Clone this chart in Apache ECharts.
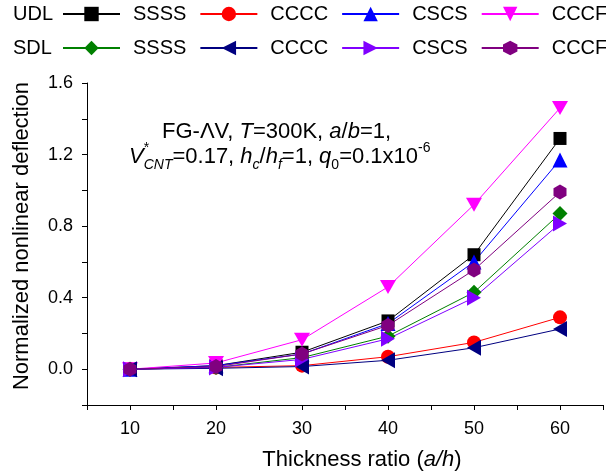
<!DOCTYPE html>
<html><head><meta charset="utf-8">
<script src="https://cdn.jsdelivr.net/npm/echarts@6/dist/echarts.min.js"></script>
<style>html,body{margin:0;padding:0;background:#fff}#c{width:606px;height:475px}</style>
</head><body><div id="c"></div>
<script>
const thickness = [10, 20, 30, 40, 50, 60];
const udlSSSS = [0, 0.02, 0.095, 0.27, 0.64, 1.29];
const udlCCCC = [0, 0.01, 0.02, 0.07, 0.15, 0.29];
const udlCSCS = [0, 0.02, 0.085, 0.255, 0.60, 1.17];
const udlCCCF = [0, 0.035, 0.165, 0.46, 0.92, 1.46];
const sdlSSSS = [0, 0.01, 0.065, 0.185, 0.43, 0.87];
const sdlCCCC = [0, 0.005, 0.015, 0.05, 0.12, 0.225];
const sdlCSCS = [0, 0.01, 0.055, 0.17, 0.40, 0.815];
const sdlCCCF = [0, 0.015, 0.085, 0.245, 0.555, 0.99];
const xTicks = [10, 20, 30, 40, 50, 60];
const yTicks = [0.0, 0.4, 0.8, 1.2, 1.6];

const FONT = '"Liberation Sans", Arial, sans-serif';
const SYM = {
  square: 'rect',
  circle: 'circle',
  up: 'triangle',
  down: 'path://M0,0 L10,0 L5,10 Z',
  diamond: 'diamond',
  left: 'path://M10,0 L0,5 L10,10 Z',
  right: 'path://M0,0 L10,5 L0,10 Z',
  hex: 'path://M5,0 L9.33,2.5 L9.33,7.5 L5,10 L0.67,7.5 L0.67,2.5 Z'
};
const seriesDefs = [
  {name: 'UDL SSSS', data: udlSSSS, color: '#000000', symbol: SYM.square, size: 13},
  {name: 'UDL CCCC', data: udlCCCC, color: '#ff0000', symbol: SYM.circle, size: 14},
  {name: 'UDL CSCS', data: udlCSCS, color: '#0000ff', symbol: SYM.up, size: 15},
  {name: 'UDL CCCF', data: udlCCCF, color: '#ff00ff', symbol: SYM.down, size: [16, 14]},
  {name: 'SDL SSSS', data: sdlSSSS, color: '#008000', symbol: SYM.diamond, size: 15},
  {name: 'SDL CCCC', data: sdlCCCC, color: '#000080', symbol: SYM.left, size: [14, 16]},
  {name: 'SDL CSCS', data: sdlCSCS, color: '#8000ff', symbol: SYM.right, size: [14, 16]},
  {name: 'SDL CCCF', data: sdlCCCF, color: '#800080', symbol: SYM.hex, size: [13, 15]}
];

const series = seriesDefs.map(d => ({
  name: d.name, type: 'line',
  data: thickness.map((x, i) => [x, d.data[i]]),
  symbol: d.symbol, symbolSize: d.size, showSymbol: true,
  lineStyle: {color: d.color, width: 1},
  itemStyle: {color: d.color, borderWidth: 0},
  emphasis: {disabled: true}, animation: false
}));

// rich annotation builder
const mctx = document.createElement('canvas').getContext('2d');
function tw(t, size, italic) { mctx.font = (italic ? 'italic ' : '') + size + 'px ' + FONT; return mctx.measureText(t).width; }
const MAIN = 22, SMALL = 14;
function buildLine(frags, x0, y0) {
  const els = []; let x = x0;
  frags.forEach(f => {
    if (f.t !== undefined) {
      els.push({type: 'text', x: x, y: y0, style: {text: f.t, fontSize: MAIN, fontFamily: FONT, fontStyle: f.i ? 'italic' : 'normal', fill: '#000', verticalAlign: 'middle', align: 'left'}});
      x += tw(f.t, MAIN, f.i);
    } else {
      let adv = 0;
      if (f.sup) {
        els.push({type: 'text', x: x, y: y0 - 9, style: {text: f.sup, fontSize: SMALL, fontFamily: FONT, fontStyle: f.supI ? 'italic' : 'normal', fill: '#000', verticalAlign: 'middle', align: 'left'}});
        adv = Math.max(adv, tw(f.sup, SMALL, f.supI));
      }
      if (f.sub) {
        els.push({type: 'text', x: x, y: y0 + 8, style: {text: f.sub, fontSize: SMALL, fontFamily: FONT, fontStyle: f.subI ? 'italic' : 'normal', fill: '#000', verticalAlign: 'middle', align: 'left'}});
        adv = Math.max(adv, tw(f.sub, SMALL, f.subI));
      }
      x += adv;
    }
  });
  return els;
}
const line1 = [{t: 'FG-'}, {t: 'Λ'}, {t: 'V, '}, {t: 'T', i: 1}, {t: '=300K, '}, {t: 'a', i: 1}, {t: '/'}, {t: 'b', i: 1}, {t: '=1,'}];
const line2 = [{t: 'V', i: 1}, {sup: '*', sub: 'CNT', subI: 1}, {t: '=0.17, '}, {t: 'h', i: 1}, {sub: 'c', subI: 1}, {t: '/'}, {t: 'h', i: 1}, {sub: 'f', subI: 1}, {t: '=1, '}, {t: 'q', i: 1}, {sub: '0'}, {t: '=0.1x10'}, {sup: '-6'}];
const annot = buildLine(line1, 162, 132).concat(buildLine(line2, 129, 157));

const legendCommon = {
  orient: 'horizontal', itemWidth: 57, itemHeight: 18, itemGap: 13, width: 640, padding: 0,
  textStyle: {fontSize: 20, fontFamily: FONT, color: '#000', padding: [0, 0, 0, 8]},
  formatter: n => n.split(' ')[1],
  selectedMode: false
};

const option = {
  backgroundColor: '#fff',
  animation: false,
  grid: {left: 87, width: 528, top: 83, height: 322, containLabel: false},
  legend: [
    Object.assign({}, legendCommon, {left: 62, top: 4, data: seriesDefs.slice(0, 4).map(d => d.name)}),
    Object.assign({}, legendCommon, {left: 62, top: 38, data: seriesDefs.slice(4).map(d => d.name)})
  ],
  xAxis: {
    type: 'value', min: 5, max: 65, interval: 5,
    axisLine: {show: true, onZero: false, lineStyle: {color: '#000', width: 1}},
    axisTick: {show: true, inside: false, length: 5, lineStyle: {color: '#000'}},
    axisLabel: {fontSize: 18, fontFamily: FONT, color: '#000', margin: 15,
      formatter: v => xTicks.indexOf(v) >= 0 ? String(v) : ''},
    splitLine: {show: false}
  },
  yAxis: {
    type: 'value', min: -0.2, max: 1.6, interval: 0.2,
    axisLine: {show: true, onZero: false, lineStyle: {color: '#000', width: 1}},
    axisTick: {show: true, inside: false, length: 5, lineStyle: {color: '#000'}},
    axisLabel: {fontSize: 18, fontFamily: FONT, color: '#000', margin: 14,
      formatter: v => yTicks.some(t => Math.abs(t - v) < 1e-6) ? v.toFixed(1) : ''},
    splitLine: {show: false}
  },
  graphic: [
    {type: 'text', x: 13, y: 14, style: {text: 'UDL', fontSize: 20, fontFamily: FONT, fill: '#000', verticalAlign: 'middle'}},
    {type: 'text', x: 13, y: 48, style: {text: 'SDL', fontSize: 20, fontFamily: FONT, fill: '#000', verticalAlign: 'middle'}},
    {type: 'text', x: 362, y: 460, style: {text: 'Thickness ratio ({i|a/h})', fontSize: 22, fontFamily: FONT, fill: '#000', align: 'center', verticalAlign: 'middle',
      rich: {i: {fontSize: 22, fontFamily: FONT, fontStyle: 'italic'}}}},
    {type: 'text', x: 22, y: 236, rotation: Math.PI / 2, style: {text: 'Normalized nonlinear deflection', fontSize: 22, fontFamily: FONT, fill: '#000', align: 'center', verticalAlign: 'middle'}}
  ].concat(annot),
  series: series
};
const chart = echarts.init(document.getElementById('c'), null, {renderer: 'canvas'});
chart.setOption(option);
</script>
</body></html>
